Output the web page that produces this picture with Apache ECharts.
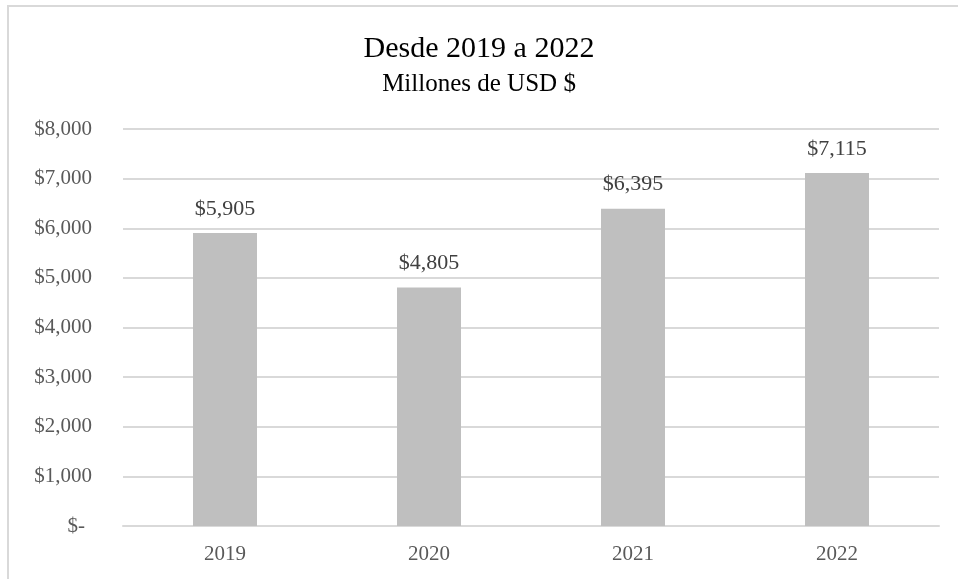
<!DOCTYPE html>
<html>
<head>
<meta charset="utf-8">
<script src="https://cdn.jsdelivr.net/npm/echarts@6/dist/echarts.min.js"></script>
<style>
html,body{margin:0;padding:0;background:#fff;}
#c{width:958px;height:579px;}
</style>
</head>
<body>
<div id="c"></div>
<script>
const categories = ['2019', '2020', '2021', '2022'];
const values = [5905, 4805, 6395, 7115];
const yTicks = [0, 1000, 2000, 3000, 4000, 5000, 6000, 7000, 8000];

const font = '"Liberation Serif", "Times New Roman", serif';
function money(v) {
  if (v === 0) return '{z|$-}';
  return '$' + v.toLocaleString('en-US');
}

const chart = echarts.init(document.getElementById('c'));
chart.setOption({
  backgroundColor: '#fff',
  animation: false,
  graphic: [{
    type: 'rect',
    shape: { x: 8, y: 6, width: 1000, height: 700 },
    style: { fill: 'none', stroke: '#D9D9D9', lineWidth: 2 },
    silent: true
  }],
  title: {
    text: 'Desde 2019 a 2022',
    subtext: 'Millones de USD $',
    left: 'center',
    top: 29,
    itemGap: 8,
    textStyle: { fontFamily: font, fontSize: 30, fontWeight: 'normal', color: '#000', lineHeight: 30 },
    subtextStyle: { fontFamily: font, fontSize: 25, color: '#000', lineHeight: 25 }
  },
  grid: { left: 123, right: 19, top: 129, bottom: 53, containLabel: false },
  xAxis: {
    type: 'category',
    data: categories,
    axisLine: { lineStyle: { color: '#D9D9D9', width: 2 } },
    axisTick: { show: false },
    axisLabel: { fontFamily: font, fontSize: 21, color: '#595959', margin: 18 }
  },
  yAxis: {
    type: 'value',
    min: yTicks[0],
    max: yTicks[yTicks.length - 1],
    interval: 1000,
    axisLine: { show: false },
    axisTick: { show: false },
    splitLine: { lineStyle: { color: '#D9D9D9', width: 2 } },
    axisLabel: {
      fontFamily: font, fontSize: 21, color: '#595959', margin: 31,
      formatter: money,
      rich: { z: { fontFamily: font, fontSize: 21, color: '#595959', padding: [0, 7, 0, 0] } }
    }
  },
  series: [{
    type: 'bar',
    data: values,
    barWidth: 64,
    itemStyle: { color: '#BFBFBF' },
    label: {
      show: true,
      position: 'top',
      distance: 13,
      fontFamily: font,
      fontSize: 22,
      color: '#404040',
      formatter: p => money(p.value)
    }
  }]
});
</script>
</body>
</html>
